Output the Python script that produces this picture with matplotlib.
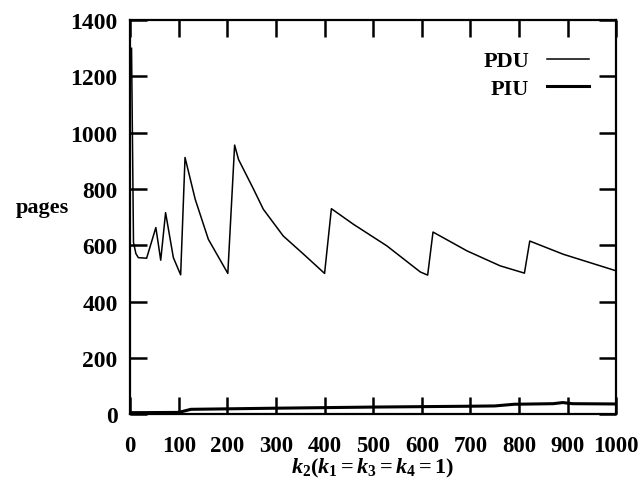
import matplotlib
matplotlib.use("Agg")
import matplotlib.pyplot as plt

# PDU curve
pdu_k = [3, 7, 12, 17, 34, 53, 63, 73, 89, 104, 113, 134, 161, 201, 215, 223, 254,
         274, 315, 357, 400, 414, 459, 528, 597, 612, 623, 693, 761, 811, 822, 891, 1000]
pdu_v = [1300, 610, 570, 556, 554, 663, 547, 716, 556, 495, 912, 763, 621, 500, 956, 905, 799,
         728, 633, 568, 500, 730, 675, 598, 505, 494, 647, 580, 527, 501, 615, 568, 509]

# PIU curve
piu_k = [1, 100, 125, 300, 500, 700, 750, 790, 870, 890, 910, 1000]
piu_v = [5, 6, 17, 21, 25, 28, 29, 35, 37, 41, 37, 36]

xticks = [0, 100, 200, 300, 400, 500, 600, 700, 800, 900, 1000]
yticks = [0, 200, 400, 600, 800, 1000, 1200, 1400]

plt.rcParams['font.family'] = 'Liberation Serif'
plt.rcParams['font.weight'] = 'bold'
plt.rcParams['mathtext.fontset'] = 'custom'
plt.rcParams['mathtext.rm'] = 'Liberation Serif:bold'
plt.rcParams['mathtext.it'] = 'Liberation Serif:italic:bold'

fig = plt.figure(figsize=(6.44, 4.81), dpi=100)
ax = fig.add_axes([0.202, 0.137, 0.755, 0.819])

ax.plot(pdu_k, pdu_v, color='black', lw=1.1, label='PDU')
ax.plot(piu_k, piu_v, color='black', lw=2.2, label='PIU')

ax.set_xlim(0, 1000)
ax.set_ylim(0, 1400)
ax.set_xticks(xticks)
ax.set_yticks(yticks)
ax.tick_params(direction='in', length=12, width=1.8, top=True, right=True)
ax.tick_params(axis='x', pad=15, labelsize=16.5)
ax.tick_params(axis='y', pad=9, labelsize=17)
for s in ax.spines.values():
    s.set_linewidth(1.6)

ax.set_xlabel(r'$k_2(k_1=k_3=k_4=1)$', fontsize=16, labelpad=0)
ax.set_ylabel('pages', rotation=0, fontsize=16, fontweight='bold')
ax.yaxis.set_label_coords(-0.18, 0.50)

leg = ax.legend(loc='upper right', bbox_to_anchor=(0.985, 0.973), frameon=False,
                markerfirst=False, fontsize=16, handlelength=1.9, labelspacing=0.3,
                handletextpad=0.8)
for t in leg.get_texts():
    t.set_ha('right')

fig.savefig('out.png', dpi=100)
